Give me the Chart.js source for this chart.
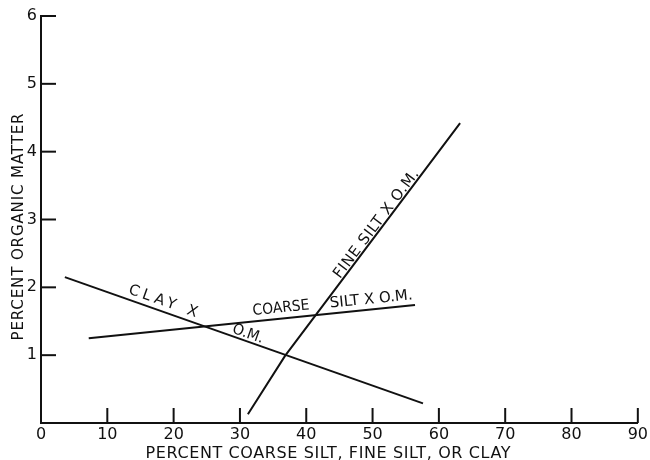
<!DOCTYPE html>
<html>
<head>
<meta charset="utf-8">
<script src="https://cdn.jsdelivr.net/npm/chart.js@4.4.0/dist/chart.umd.min.js"></script>
<style>
  html, body { margin: 0; padding: 0; background: #fff; }
  #wrap { width: 650px; height: 460px; }
</style>
</head>
<body>
<div id="wrap"><canvas id="chart" width="650" height="460"></canvas></div>
<script>
// Datos
const xTicks = [0, 10, 20, 30, 40, 50, 60, 70, 80, 90];
const yTicks = [0, 1, 2, 3, 4, 5, 6];

const clayX = [3.6, 57.6];
const clayY = [2.15, 0.29];

const coarseX = [7.2, 56.4];
const coarseY = [1.25, 1.74];

const fineX = [31.2, 36.8, 63.2];
const fineY = [0.13, 0.99, 4.42];

// Rótulos sobre las líneas (centro en unidades de datos, ancho en px)
const lineLabels = [
    { text: 'CLAY X', x: 18.4, y: 1.79, angle: 19.4, width: 72 },
    { text: 'O.M.', x: 31.2, y: 1.31, angle: 19.4, width: 32 },
    { text: 'COARSE', x: 36.2, y: 1.69, angle: -5.8, width: 57 },
    { text: 'SILT X O.M.', x: 49.8, y: 1.82, angle: -5.8, width: 83 },
    { text: 'FINE SILT X O.M.', x: 50.6, y: 2.93, angle: -53, width: 132 }
];

const xTitle = 'PERCENT COARSE SILT, FINE SILT, OR CLAY';
const yTitle = 'PERCENT ORGANIC MATTER';

const ink = '#111';
const font = '"DejaVu Sans", "Liberation Sans", sans-serif';

function toPoints(xs, ys) {
    return xs.map((x, i) => ({ x: x, y: ys[i] }));
}

function lineSet(xs, ys) {
    return {
        data: toPoints(xs, ys),
        showLine: true,
        borderColor: ink,
        borderWidth: 2,
        pointRadius: 0,
        tension: 0
    };
}

// Texto ajustado a un ancho dado, centrado en (cx, cy)
function drawSpaced(ctx, text, cx, cy, angle, width) {
    ctx.save();
    ctx.translate(cx, cy);
    ctx.rotate(angle);
    ctx.letterSpacing = '0px';
    const w0 = ctx.measureText(text).width;
    const sp = (width - w0) / (text.length - 1);
    ctx.textBaseline = 'middle';
    if (sp >= 0) {
        ctx.letterSpacing = sp + 'px';
        ctx.textAlign = 'left';
        ctx.fillText(text, -width / 2, 0);
    } else {
        ctx.textAlign = 'center';
        ctx.fillText(text, 0, 0, width);
    }
    ctx.restore();
}

// Marcas de escala hacia dentro y textos
const decorPlugin = {
    id: 'decor',
    afterDraw(chart) {
        const ctx = chart.ctx;
        const xs = chart.scales.x;
        const ys = chart.scales.y;
        const area = chart.chartArea;
        ctx.save();
        ctx.strokeStyle = ink;
        ctx.lineWidth = 2;
        yTicks.filter(v => v > 0).forEach(v => {
            const py = ys.getPixelForValue(v);
            ctx.beginPath();
            ctx.moveTo(area.left, py);
            ctx.lineTo(area.left + 15, py);
            ctx.stroke();
        });
        xTicks.filter(v => v > 0).forEach(v => {
            const px = xs.getPixelForValue(v);
            ctx.beginPath();
            ctx.moveTo(px, area.bottom);
            ctx.lineTo(px, area.bottom - 15);
            ctx.stroke();
        });

        ctx.fillStyle = ink;
        ctx.font = '15px ' + font;
        lineLabels.forEach(l => {
            drawSpaced(ctx, l.text, xs.getPixelForValue(l.x), ys.getPixelForValue(l.y),
                l.angle * Math.PI / 180, l.width);
        });

        ctx.font = '16px ' + font;
        drawSpaced(ctx, xTitle, 328, 454, 0, 365);
        ctx.font = '15px ' + font;
        drawSpaced(ctx, yTitle, 19, 227, -Math.PI / 2, 227);
        ctx.restore();
    }
};

new Chart(document.getElementById('chart'), {
    type: 'scatter',
    data: {
        datasets: [
            lineSet(clayX, clayY),
            lineSet(coarseX, coarseY),
            lineSet(fineX, fineY)
        ]
    },
    options: {
        responsive: false,
        animation: false,
        layout: { padding: { top: 16, right: 10, left: 0, bottom: 0 } },
        plugins: {
            legend: { display: false },
            tooltip: { enabled: false }
        },
        scales: {
            x: {
                type: 'linear',
                min: 0,
                max: 90,
                afterFit: s => { s.height = 37; },
                afterBuildTicks: s => { s.ticks = xTicks.map(v => ({ value: v })); },
                grid: { display: false, drawTicks: false },
                border: { display: true, color: ink, width: 2 },
                ticks: {
                    padding: 2,
                    color: ink,
                    maxRotation: 0,
                    font: { size: 16, family: font },
                    callback: v => String(v)
                }
            },
            y: {
                type: 'linear',
                min: 0,
                max: 6,
                afterFit: s => { s.width = 41; },
                afterBuildTicks: s => { s.ticks = yTicks.map(v => ({ value: v })); },
                grid: { display: false, drawTicks: false },
                border: { display: true, color: ink, width: 2 },
                ticks: {
                    padding: 4,
                    color: ink,
                    font: { size: 16, family: font },
                    callback: v => (v === 0 ? '' : String(v))
                }
            }
        }
    },
    plugins: [decorPlugin]
});
</script>
</body>
</html>
